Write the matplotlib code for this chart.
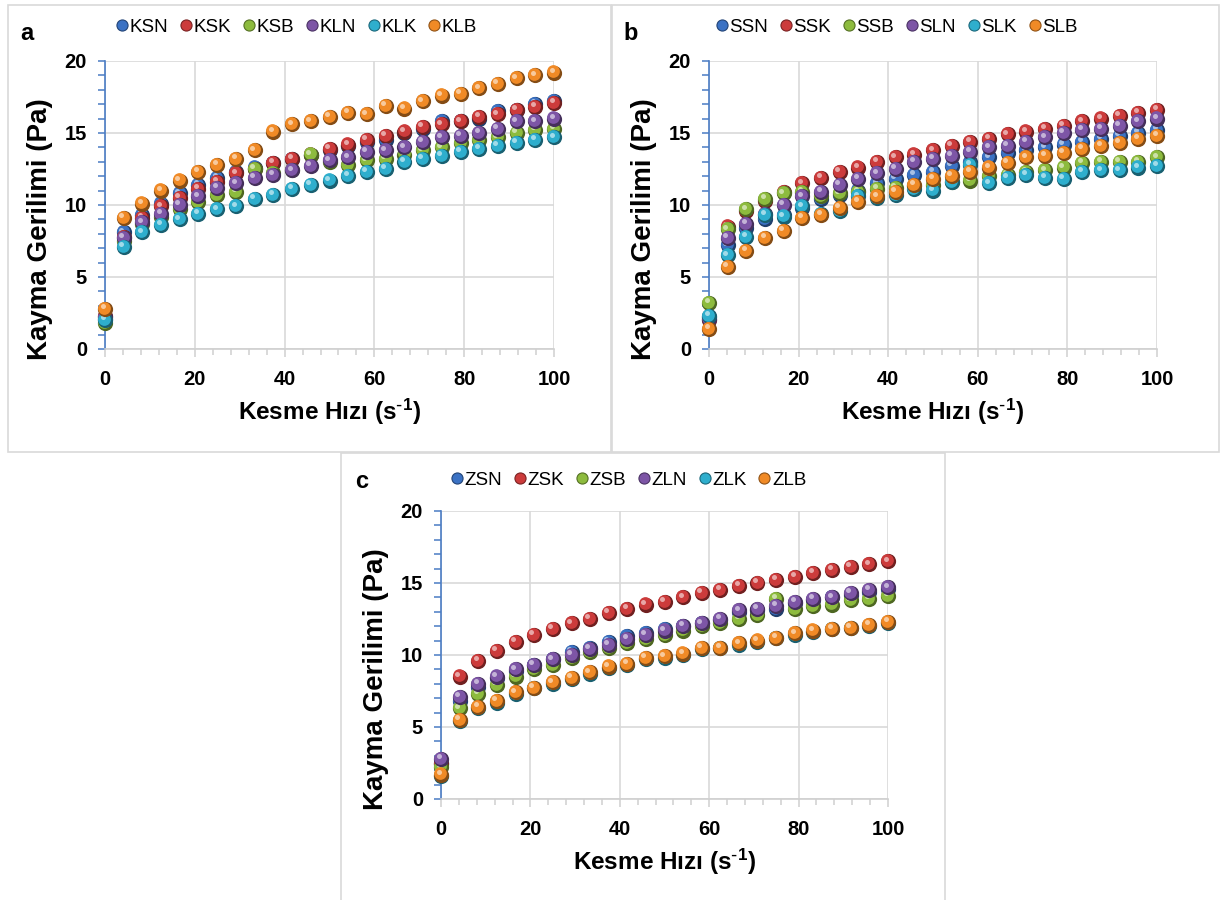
import matplotlib
matplotlib.use('Agg')
import matplotlib.pyplot as plt
from matplotlib.lines import Line2D
from matplotlib.patches import Rectangle
from matplotlib.ticker import MultipleLocator
from matplotlib import transforms
import matplotlib.colors as mcolors
import numpy as np

plt.rcParams['font.family'] = ['Liberation Sans', 'DejaVu Sans']
plt.rcParams['mathtext.default'] = 'regular'

# kesme hizi (s-1)
shear = [0.1, 4.2, 8.3, 12.5, 16.7, 20.8, 25.0, 29.2, 33.3, 37.5, 41.7, 45.8, 50.0,
         54.2, 58.3, 62.5, 66.7, 70.8, 75.0, 79.2, 83.3, 87.5, 91.7, 95.8, 100.0]

# panel a
KSN = [2.1, 8.1, 9.3, 10.1, 10.8, 11.4, 11.9, 12.3, 12.6, 12.9, 13.2, 13.5, 13.8,
       14.1, 14.4, 14.5, 15.0, 15.3, 15.8, 15.8, 16.0, 16.5, 16.6, 17.0, 17.2]
KSK = [2.3, 7.8, 9.1, 9.9, 10.5, 11.1, 11.6, 12.2, 12.5, 12.9, 13.2, 13.5, 13.9,
       14.2, 14.5, 14.8, 15.1, 15.4, 15.6, 15.8, 16.1, 16.3, 16.6, 16.8, 17.1]
KSB = [1.8, 7.5, 8.7, 9.2, 9.7, 10.2, 10.7, 10.9, 12.5, 12.2, 12.4, 13.5, 13.0,
       12.8, 13.1, 13.2, 13.5, 13.8, 14.0, 14.3, 14.5, 14.7, 15.0, 15.2, 15.3]
KLN = [2.2, 7.7, 8.8, 9.4, 10.0, 10.6, 11.2, 11.5, 11.9, 12.1, 12.4, 12.7, 13.1,
       13.3, 13.7, 13.8, 14.0, 14.4, 14.7, 14.8, 15.0, 15.3, 15.8, 15.8, 16.0]
KLK = [2.0, 7.1, 8.1, 8.6, 9.0, 9.4, 9.7, 9.9, 10.4, 10.7, 11.1, 11.4, 11.7,
       12.0, 12.3, 12.5, 13.0, 13.2, 13.4, 13.7, 13.9, 14.1, 14.3, 14.5, 14.7]
KLB = [2.8, 9.1, 10.1, 11.0, 11.7, 12.3, 12.8, 13.2, 13.8, 15.1, 15.6, 15.8, 16.1,
       16.4, 16.3, 16.9, 16.7, 17.2, 17.6, 17.7, 18.1, 18.4, 18.8, 19.0, 19.2]

# panel b
SSN = [2.2, 7.2, 8.4, 9.0, 9.3, 9.8, 10.4, 10.7, 11.0, 11.5, 11.8, 12.1, 12.3,
       12.7, 13.0, 13.3, 13.6, 13.8, 14.0, 14.2, 14.4, 14.6, 14.8, 15.0, 15.2]
SSK = [2.0, 8.5, 9.6, 10.3, 10.9, 11.5, 11.9, 12.3, 12.6, 13.0, 13.3, 13.5, 13.8,
       14.1, 14.4, 14.6, 14.9, 15.1, 15.3, 15.5, 15.8, 16.0, 16.2, 16.4, 16.6]
SSB = [3.2, 8.3, 9.7, 10.4, 10.8, 10.9, 10.6, 10.8, 10.9, 11.1, 11.2, 11.3, 11.4,
       11.6, 11.7, 12.0, 12.1, 12.3, 12.4, 12.6, 12.9, 13.0, 13.0, 13.0, 13.3]
SLN = [2.1, 7.7, 8.7, 9.4, 10.0, 10.6, 10.9, 11.4, 11.8, 12.2, 12.5, 13.0, 13.2,
       13.4, 13.7, 14.0, 14.1, 14.4, 14.7, 15.0, 15.2, 15.3, 15.5, 15.8, 16.0]
SLK = [2.3, 6.5, 7.8, 9.3, 9.2, 9.9, 9.4, 9.6, 10.6, 10.5, 10.7, 11.1, 11.0,
       11.6, 12.8, 11.5, 11.9, 12.1, 11.9, 11.8, 12.3, 12.4, 12.4, 12.6, 12.7]
SLB = [1.4, 5.7, 6.8, 7.7, 8.2, 9.1, 9.3, 9.8, 10.2, 10.6, 10.9, 11.4, 11.8,
       12.0, 12.3, 12.6, 12.9, 13.3, 13.4, 13.6, 13.9, 14.1, 14.3, 14.6, 14.8]

# panel c
ZSN = [2.5, 6.8, 7.8, 8.4, 8.9, 9.3, 9.7, 10.2, 10.5, 10.9, 11.3, 11.5, 11.8,
       12.0, 12.2, 12.4, 13.0, 13.1, 13.2, 13.6, 13.8, 14.0, 14.2, 14.4, 14.6]
ZSK = [2.4, 8.5, 9.6, 10.3, 10.9, 11.4, 11.8, 12.2, 12.5, 12.9, 13.2, 13.5, 13.7,
       14.0, 14.3, 14.5, 14.8, 15.0, 15.2, 15.4, 15.7, 15.9, 16.1, 16.3, 16.5]
ZSB = [2.2, 6.3, 7.3, 7.9, 8.5, 9.0, 9.3, 9.8, 10.2, 10.5, 10.8, 11.1, 11.4,
       11.7, 12.0, 12.2, 12.5, 12.8, 13.9, 13.2, 13.4, 13.5, 13.8, 13.9, 14.1]
ZLN = [2.8, 7.1, 8.0, 8.5, 9.0, 9.3, 9.7, 10.0, 10.4, 10.7, 11.1, 11.4, 11.7,
       12.0, 12.2, 12.5, 13.1, 13.2, 13.4, 13.7, 13.9, 14.0, 14.3, 14.5, 14.7]
ZLK = [1.6, 5.4, 6.3, 6.7, 7.3, 7.7, 8.0, 8.3, 8.7, 9.1, 9.3, 9.7, 9.8,
       10.0, 10.4, 10.5, 10.7, 10.9, 11.2, 11.4, 11.6, 11.8, 11.9, 12.0, 12.2]
ZLB = [1.7, 5.5, 6.4, 6.8, 7.4, 7.7, 8.1, 8.4, 8.8, 9.2, 9.4, 9.8, 9.9,
       10.1, 10.5, 10.5, 10.8, 11.0, 11.2, 11.5, 11.7, 11.8, 11.9, 12.1, 12.3]

colors = ['#3b72c4', '#cc3b3b', '#8dbb3e', '#7d55a6', '#2eaecd', '#f08a26']

panels = [
    ('a', ['KSN', 'KSK', 'KSB', 'KLN', 'KLK', 'KLB'], [KSN, KSK, KSB, KLN, KLK, KLB]),
    ('b', ['SSN', 'SSK', 'SSB', 'SLN', 'SLK', 'SLB'], [SSN, SSK, SSB, SLN, SLK, SLB]),
    ('c', ['ZSN', 'ZSK', 'ZSB', 'ZLN', 'ZLK', 'ZLB'], [ZSN, ZSK, ZSB, ZLN, ZLK, ZLB]),
]

# axes rect, legend centre, panel letter pos, panel frame (all in pixels)
W, H = 1224, 900
layout = [
    dict(ax=(105, 61, 554, 349), leg=(296, 27), lab=(27, 33), box=(8, 5, 611, 452)),
    dict(ax=(709, 61, 1157, 349), leg=(896, 27), lab=(631, 33), box=(612, 5, 1219, 452)),
    dict(ax=(441, 511, 888, 799), leg=(628, 480), lab=(362, 482), box=(341, 453, 945, 902)),
]


def shade(c, f):
    r = np.array(mcolors.to_rgb(c))
    if f < 1:
        return tuple(r * f)
    return tuple(r + (1 - r) * (f - 1))


fig = plt.figure(figsize=(W / 100, H / 100), dpi=100)

for (letter, names, series), lay in zip(panels, layout):
    x0, y0, x1, y1 = lay['box']
    fig.patches.append(Rectangle((x0 / W, 1 - y1 / H), (x1 - x0) / W, (y1 - y0) / H,
                                 transform=fig.transFigure, fill=False,
                                 edgecolor='#d9d9d9', linewidth=1.2))
    l, t, r, b = lay['ax']
    ax = fig.add_axes([l / W, 1 - b / H, (r - l) / W, (b - t) / H])
    ax.set_xlim(0, 100)
    ax.set_ylim(0, 20)
    ax.xaxis.set_major_locator(MultipleLocator(20))
    ax.xaxis.set_minor_locator(MultipleLocator(4))
    ax.yaxis.set_major_locator(MultipleLocator(5))
    ax.yaxis.set_minor_locator(MultipleLocator(1))
    ax.grid(True, which='major', color='#d9d9d9', linewidth=1.2)
    ax.set_axisbelow(True)
    for s in ['top', 'right']:
        ax.spines[s].set_visible(False)
    ax.spines['left'].set_color('#4a7cc4')
    ax.spines['left'].set_linewidth(1.2)
    ax.spines['bottom'].set_color('#d0d0d0')
    ax.spines['bottom'].set_linewidth(1.2)
    ax.tick_params(axis='y', which='both', colors='#4a7cc4', labelcolor='black',
                   length=5, width=1.1, pad=8, labelsize=14.5)
    ax.tick_params(axis='x', which='major', colors='#d0d0d0', labelcolor='black',
                   length=6, width=1.1, pad=9, labelsize=14.5)
    ax.tick_params(axis='x', which='minor', colors='#d0d0d0', length=4, width=1.1)
    for lb in ax.get_xticklabels() + ax.get_yticklabels():
        lb.set_fontweight('bold')
    ax.set_xlabel(r'Kesme Hızı (s$^{\text{-}1}$)', fontsize=17.5, fontweight='bold', labelpad=6)
    ax.set_ylabel('Kayma Gerilimi (Pa)', fontsize=20, fontweight='bold')
    ax.yaxis.set_label_coords(-0.116, 0.415)

    hi1 = transforms.offset_copy(ax.transData, fig=fig, x=-0.7, y=0.8, units='points')
    hi2 = transforms.offset_copy(ax.transData, fig=fig, x=-1.8, y=2.0, units='points')
    for i, (vals, c) in enumerate(zip(series, colors)):
        z = 3 + i
        ax.scatter(shear, vals, s=120, color=shade(c, 0.55), linewidths=0, zorder=z, clip_on=False)
        ax.scatter(shear, vals, s=84, color=c, linewidths=0, zorder=z, clip_on=False, transform=hi1)
        ax.scatter(shear, vals, s=13, color=shade(c, 1.55), linewidths=0, zorder=z, clip_on=False,
                   transform=hi2)

    handles = [Line2D([], [], linestyle='none', marker='o', markersize=8,
                      markerfacecolor=c, markeredgecolor=shade(c, 0.6), markeredgewidth=0.8)
               for c in colors]
    lx, ly = lay['leg']
    fig.legend(handles, names, loc='center', bbox_to_anchor=(lx / W, 1 - ly / H), ncol=6,
               frameon=False, fontsize=13.5, handletextpad=0.0, columnspacing=0.55,
               handlelength=0.8, borderpad=0.2)
    px, py = lay['lab']
    fig.text(px / W, 1 - py / H, letter, fontsize=17, fontweight='bold', ha='center', va='center')

fig.savefig('out.png', dpi=100)
